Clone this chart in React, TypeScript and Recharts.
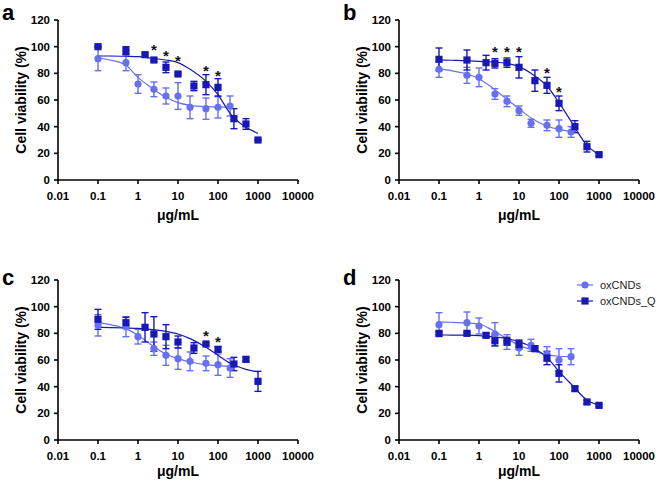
import React from 'react';
import { ComposedChart, Line, Scatter, XAxis, YAxis, ErrorBar } from 'recharts';

const LIGHT = '#6670f0';
const DARK = '#1818b4';
const FONT = '"Liberation Sans", Arial, Helvetica, sans-serif';

const xTicks = [0.01, 0.1, 1, 10, 100, 1000, 10000];
const yTicks = [0, 20, 40, 60, 80, 100, 120];

// doses used for each compound
const doseC = [0.1, 0.5, 1, 2.5, 5, 10, 20, 50, 100, 200];
const doseQ = [0.1, 0.5, 1.5, 2.5, 5, 10, 25, 50, 100, 250, 500, 1000];
const fitDose = [0.1, 0.2, 0.5, 1, 2, 5, 10, 20, 50, 100, 200, 500, 1000];

// panel a
const aViabC = [91, 88, 72, 68, 63, 63, 54.5, 53.5, 54.5, 55.5];
const aErrC = [9, 6, 7, 5.5, 6, 10, 8.5, 8, 8, 7.5];
const aViabQ = [100, 97, 94, 90, 84.5, 79.5, 70.5, 71.5, 69.5, 46, 42, 30];
const aErrQ = [0.5, 3, 1, 1, 4, 1, 3.5, 7.5, 6.5, 7.5, 4, 0.5];
const aFitC = [91.5, 90, 86, 77, 70, 62, 58, 56, 55, 54.8, 54.5];
const aFitQ = [93, 93, 92.8, 92.5, 91.5, 90, 88, 83, 74, 64, 50, 39.5, 35];
const aStarDose = [2.5, 5, 10, 50, 100];
const aStarY = [100.5, 95.5, 92, 84.5, 80.5];

// panel b
const bViabC = [83, 78.5, 77, 64.5, 59, 52, 42.5, 41, 38.5, 36];
const bErrC = [6, 6, 7, 4, 4, 3.5, 3, 4, 6.5, 4];
const bViabQ = [90.5, 90, 88, 87.5, 88, 84.5, 74.5, 71, 57.5, 40, 25, 19];
const bErrQ = [8.5, 7.5, 5.5, 3.5, 3.5, 8, 8, 6, 5.5, 4.5, 4, 1];
const bFitC = [83.5, 82, 79.5, 76, 70, 60.5, 53.5, 46.5, 40.5, 38, 36.5];
const bFitQ = [90, 89.8, 89.5, 89, 88.5, 87.5, 85, 80, 70.5, 58, 44, 26, 19];
const bStarDose = [2.5, 5, 10, 50, 100];
const bStarY = [99, 99, 99, 83, 68.5];

// panel c
const cViabC = [86, 85, 77.5, 68.5, 63.5, 61, 59, 57.5, 56.5, 54];
const cErrC = [8, 7.5, 5.5, 5, 7.5, 8, 7, 5.5, 8, 7];
const cViabQ = [90.5, 88, 84.5, 79.5, 77.5, 73.5, 69, 72, 68, 57, 60.5, 44];
const cErrQ = [7.5, 4, 11, 13, 9, 4.5, 4, 1, 2, 5, 1.5, 7.5];
const cFitC = [88, 86.5, 83.5, 78.5, 72, 64.5, 61, 58.5, 56.5, 55.8, 55.4];
const cFitQ = [84.5, 84.3, 84, 83.7, 83, 81.5, 79.5, 76, 69.5, 63.5, 57.5, 53, 51];
const cStarDose = [50, 100];
const cStarY = [80.5, 76];

// panel d
const dViabC = [86.5, 88, 85.5, 79.5, 73.5, 69, 71, 64.5, 60, 62.5];
const dErrC = [9, 8, 6, 8.5, 5.5, 5.5, 4.5, 5.5, 8.5, 6];
const dViabQ = [80, 80, 78.5, 74.5, 74, 71.5, 68.5, 61.5, 50, 38.5, 28.5, 26];
const dErrQ = [1, 1, 1.5, 4, 3, 3.5, 2, 5, 6.5, 1.5, 1.5, 1];
const dFitC = [88.5, 88.3, 87.8, 87, 83, 76, 71, 67.8, 63.8, 62.8, 62.6];
const dFitQ = [78.8, 78.7, 78.6, 78.3, 77.5, 76, 73.8, 70, 62, 51.5, 42, 30, 26];
const dStarDose: number[] = [];
const dStarY: number[] = [];

const seriesNames = ['oxCNDs', 'oxCNDs_Q'];

const pts = (xs: number[], ys: number[], errs?: number[]) =>
  ys.map((y, i) => ({ x: xs[i], y, err: errs ? errs[i] : 0 }));

const Circle = (p: any) => <circle cx={p.cx} cy={p.cy} r={3.6} fill={LIGHT} />;
const Square = (p: any) => <rect x={p.cx - 3.6} y={p.cy - 3.6} width={7.2} height={7.2} fill={DARK} />;
const Star = (p: any) => (
  <text x={p.cx} y={p.cy + 8.5} textAnchor="middle" fontSize={15} fontWeight="bold" fontFamily={FONT} fill="#111">
    *
  </text>
);

const axisStyle = { stroke: '#000', strokeWidth: 1.6 };
const tickStyle = { fill: '#000', fontSize: 11.5, fontWeight: 'bold', fontFamily: FONT };
const labelStyle = { fill: '#000', fontSize: 14, fontWeight: 'bold', fontFamily: FONT };

const panels = [
  { letter: 'a', left: 0, top: 0, h: 243, mt: 20, axisH: 63, labOff: 30, ml: 0,
    vc: aViabC, ec: aErrC, vq: aViabQ, eq: aErrQ, fc: aFitC, fq: aFitQ, sd: aStarDose, sy: aStarY },
  { letter: 'b', left: 330, top: 0, h: 243, mt: 20, axisH: 63, labOff: 30, ml: 11,
    vc: bViabC, ec: bErrC, vq: bViabQ, eq: bErrQ, fc: bFitC, fq: bFitQ, sd: bStarDose, sy: bStarY },
  { letter: 'c', left: 0, top: 243, h: 243, mt: 37, axisH: 46, labOff: 26, ml: 0,
    vc: cViabC, ec: cErrC, vq: cViabQ, eq: cErrQ, fc: cFitC, fq: cFitQ, sd: cStarDose, sy: cStarY },
  { letter: 'd', left: 330, top: 243, h: 243, mt: 37, axisH: 46, labOff: 26, ml: 11,
    vc: dViabC, ec: dErrC, vq: dViabQ, eq: dErrQ, fc: dFitC, fq: dFitQ, sd: dStarDose, sy: dStarY },
];

function Panel(p: any) {
  const width = p.ml + 58 + 240 + 32;
  return (
    <div style={{ position: 'absolute', left: p.left, top: p.top, width, height: p.h }}>
      <ComposedChart width={width} height={p.h} margin={{ top: p.mt, right: 32, bottom: 0, left: p.ml }}>
        <XAxis
          type="number"
          dataKey="x"
          scale="log"
          domain={[0.01, 10000]}
          ticks={xTicks}
          interval={0}
          allowDataOverflow
          height={p.axisH}
          tickSize={4}
          tickMargin={8}
          axisLine={axisStyle}
          tickLine={axisStyle}
          tick={tickStyle}
          tickFormatter={(v: number) => String(v)}
          label={{ value: 'μg/mL', position: 'insideTop', offset: p.labOff, style: labelStyle }}
        />
        <YAxis
          type="number"
          domain={[0, 120]}
          ticks={yTicks}
          interval={0}
          allowDataOverflow
          width={58}
          tickSize={4}
          tickMargin={4}
          axisLine={axisStyle}
          tickLine={axisStyle}
          tick={tickStyle}
          label={{
            value: 'Cell viability (%)',
            angle: -90,
            position: 'insideLeft',
            offset: 21,
            style: { ...labelStyle, textAnchor: 'middle' },
          }}
        />
        <Line data={pts(fitDose, p.fc)} dataKey="y" type="monotone" stroke={LIGHT} strokeWidth={1.2} dot={false} isAnimationActive={false} />
        <Scatter data={pts(doseC, p.vc, p.ec)} dataKey="y" shape={Circle} isAnimationActive={false}>
          <ErrorBar dataKey="err" direction="y" width={3.5} stroke={LIGHT} strokeWidth={1.4} />
        </Scatter>
        <Line data={pts(fitDose, p.fq)} dataKey="y" type="monotone" stroke={DARK} strokeWidth={1.2} dot={false} isAnimationActive={false} />
        <Scatter data={pts(doseQ, p.vq, p.eq)} dataKey="y" shape={Square} isAnimationActive={false}>
          <ErrorBar dataKey="err" direction="y" width={3.5} stroke={DARK} strokeWidth={1.4} />
        </Scatter>
        <Scatter data={pts(p.sd, p.sy)} dataKey="y" shape={Star} isAnimationActive={false} />
      </ComposedChart>
    </div>
  );
}

export default function App() {
  return (
    <div style={{ position: 'absolute', left: 0, top: 0, width: 661, height: 486, background: '#fff', fontFamily: FONT }}>
      {panels.map((p) => (
        <Panel key={p.letter} {...p} />
      ))}
      <svg width={661} height={486} style={{ position: 'absolute', left: 0, top: 0, pointerEvents: 'none' }}>
        {panels.map((p) => (
          <text key={p.letter} x={p.left + (p.ml ? 13 : 2)} y={p.top + (p.top ? 42 : 20)} fontSize={22} fontWeight="bold" fontFamily={FONT} fill="#000">
            {p.letter}
          </text>
        ))}
        <g fontFamily={FONT} fontSize={11} fill="#222">
          <line x1={577} y1={285} x2={593} y2={285} stroke={LIGHT} strokeWidth={1.2} />
          <circle cx={585} cy={285} r={3.6} fill={LIGHT} />
          <text x={600} y={289}>{seriesNames[0]}</text>
          <line x1={577} y1={301} x2={593} y2={301} stroke={DARK} strokeWidth={1.2} />
          <rect x={581.4} y={297.4} width={7.2} height={7.2} fill={DARK} />
          <text x={600} y={305}>{seriesNames[1]}</text>
        </g>
      </svg>
    </div>
  );
}
